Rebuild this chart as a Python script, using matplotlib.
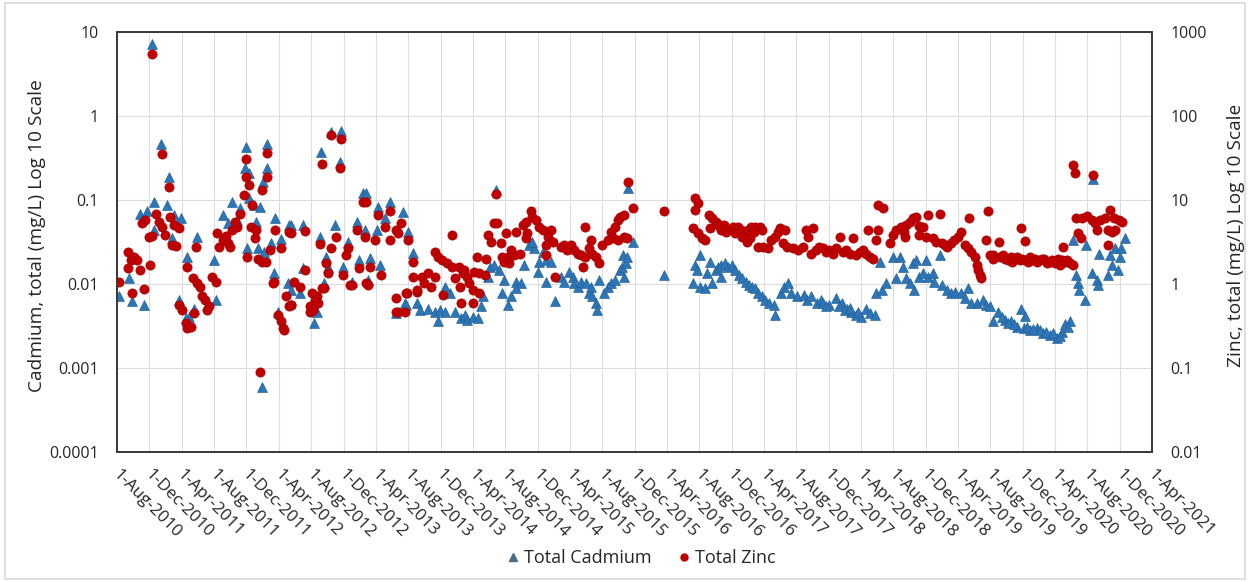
import numpy as np
import pandas as pd
import matplotlib
matplotlib.use('Agg')
import matplotlib.pyplot as plt
import matplotlib.ticker as mticker
import matplotlib.transforms as mtrans
from matplotlib.lines import Line2D
from matplotlib.patches import Rectangle

# sample date (decimal year), total cadmium mg/L
cd_points = [
    (2010.60, 0.0071), (2010.70, 0.0117), (2010.74, 0.0062), (2010.86, 0.0056),
    (2010.82, 0.069), (2010.89, 0.073), (2010.94, 7.2), (2010.96, 0.095),
    (2010.96, 0.044), (2011.03, 0.47), (2011.10, 0.087), (2011.12, 0.19),
    (2011.15, 0.035), (2011.17, 0.066), (2011.24, 0.061), (2011.22, 0.0064),
    (2011.30, 0.021), (2011.32, 0.0041), (2011.37, 0.0051), (2011.41, 0.0366),
    (2011.58, 0.0193), (2011.60, 0.0064), (2011.29, 0.0039),
    (2011.67, 0.066), (2011.72, 0.053), (2011.77, 0.095), (2011.82, 0.058),
    (2011.85, 0.081), (2011.94, 0.105), (2011.99, 0.087), (2011.91, 0.43),
    (2011.90, 0.24), (2011.94, 0.21), (2012.13, 0.47), (2012.13, 0.24),
    (2012.09, 0.165), (2012.01, 0.055), (2012.06, 0.083), (2011.92, 0.0266),
    (2012.04, 0.0266), (2012.10, 0.0242), (2012.17, 0.0305), (2012.21, 0.0606),
    (2012.27, 0.034), (2012.35, 0.050), (2012.20, 0.0134), (2012.24, 0.0047),
    (2012.34, 0.0102), (2012.08, 0.00059),
    (2012.37, 0.050), (2012.50, 0.050), (2012.67, 0.0366), (2012.83, 0.050),
    (2013.05, 0.055), (2013.14, 0.044), (2012.96, 0.0314), (2013.26, 0.044),
    (2013.27, 0.083), (2013.39, 0.0955), (2013.34, 0.0606), (2013.53, 0.0726),
    (2013.58, 0.042), (2013.63, 0.0232), (2013.07, 0.0193), (2013.19, 0.0202),
    (2013.29, 0.0168), (2012.91, 0.0161), (2012.76, 0.0161), (2012.74, 0.021),
    (2013.00, 0.0106), (2013.17, 0.0112), (2012.50, 0.0154), (2012.71, 0.0102),
    (2012.64, 0.0047), (2012.61, 0.0034), (2012.38, 0.0085), (2012.47, 0.0078),
    (2012.68, 0.37), (2012.79, 0.65), (2012.89, 0.66), (2012.88, 0.286),
    (2013.12, 0.12), (2013.15, 0.12), (2013.45, 0.0045), (2013.55, 0.0059),
    (2013.67, 0.0059), (2013.70, 0.0049), (2013.79, 0.0051), (2013.86, 0.0047),
    (2013.91, 0.0049), (2013.89, 0.0036), (2013.96, 0.0047), (2014.01, 0.0078),
    (2014.06, 0.0047), (2014.13, 0.0039), (2014.17, 0.0043), (2013.56, 0.0056),
    (2013.96, 0.0093), (2014.19, 0.0037), (2014.25, 0.0041), (2014.30, 0.0039),
    (2014.35, 0.0071), (2014.33, 0.0054), (2014.40, 0.0122), (2014.42, 0.016),
    (2014.47, 0.0168), (2014.52, 0.0147), (2014.49, 0.131), (2014.57, 0.0112),
    (2014.69, 0.0106), (2014.74, 0.0102), (2014.55, 0.0078), (2014.61, 0.0056),
    (2014.64, 0.0071), (2014.69, 0.0089), (2014.78, 0.0168), (2014.83, 0.029),
    (2014.88, 0.0266), (2014.86, 0.032), (2014.93, 0.0184), (2014.92, 0.014),
    (2014.97, 0.0242), (2015.00, 0.0193), (2015.05, 0.0184), (2015.00, 0.0106),
    (2015.09, 0.0062), (2015.16, 0.0122), (2015.19, 0.0106), (2015.24, 0.014),
    (2015.28, 0.0122), (2015.29, 0.0102), (2015.33, 0.0093), (2015.36, 0.0106),
    (2015.41, 0.0102), (2015.45, 0.0078), (2015.47, 0.0093), (2015.48, 0.0071),
    (2015.52, 0.0059), (2015.53, 0.0049), (2015.55, 0.0112), (2015.60, 0.0078),
    (2015.64, 0.0093), (2015.67, 0.0102), (2015.71, 0.0112), (2015.76, 0.0147),
    (2015.79, 0.016), (2015.80, 0.0221), (2015.81, 0.0122), (2015.83, 0.0176),
    (2015.84, 0.021), (2015.85, 0.138), (2015.90, 0.032), (2016.22, 0.0128),
    (2016.52, 0.0102), (2016.54, 0.0168), (2016.56, 0.0147), (2016.59, 0.0221),
    (2016.59, 0.0093), (2016.64, 0.0089), (2016.66, 0.0134), (2016.69, 0.0184),
    (2016.71, 0.0102), (2016.75, 0.0147), (2016.78, 0.0161), (2016.81, 0.0168),
    (2016.85, 0.0176), (2016.81, 0.0122), (2016.88, 0.016), (2016.92, 0.0168),
    (2016.95, 0.0147), (2016.99, 0.0128), (2017.02, 0.0117), (2017.06, 0.0106),
    (2017.09, 0.0097), (2017.12, 0.0093), (2017.16, 0.0089), (2017.19, 0.0078),
    (2017.23, 0.0071), (2017.26, 0.0064), (2017.30, 0.0059), (2017.35, 0.0056),
    (2017.36, 0.0043), (2017.42, 0.0078), (2017.45, 0.0093), (2017.50, 0.0102),
    (2017.53, 0.0078), (2017.59, 0.0071), (2017.66, 0.0074), (2017.69, 0.0064),
    (2017.73, 0.0071), (2017.79, 0.0059), (2017.83, 0.0064),
    (2017.86, 0.0059), (2017.92, 0.0056), (2017.99, 0.0068), (2018.05, 0.0059),
    (2018.10, 0.0051), (2018.15, 0.0047), (2018.20, 0.0043), (2018.25, 0.0041),
    (2018.30, 0.0051), (2018.34, 0.0045), (2018.39, 0.0043), (2017.89, 0.0054),
    (2018.02, 0.0055), (2018.08, 0.0049), (2018.13, 0.0052), (2018.22, 0.0046),
    (2018.40, 0.0078), (2018.46, 0.0085), (2018.51, 0.0102), (2018.44, 0.0184),
    (2018.58, 0.0211), (2018.65, 0.0211), (2018.68, 0.016), (2018.61, 0.0117),
    (2018.71, 0.0117), (2018.78, 0.0176), (2018.82, 0.0193), (2018.75, 0.0102),
    (2018.79, 0.0085), (2018.85, 0.0122), (2018.89, 0.0134), (2018.92, 0.0193),
    (2018.94, 0.0122), (2018.99, 0.0134), (2019.00, 0.0106), (2019.06, 0.0221),
    (2019.08, 0.0097), (2019.14, 0.0085), (2019.18, 0.0078), (2019.22, 0.008),
    (2019.28, 0.0078), (2019.32, 0.0068), (2019.35, 0.0089), (2019.38, 0.0059),
    (2019.44, 0.0059), (2019.51, 0.0064), (2019.54, 0.0056), (2019.61, 0.0036),
    (2019.58, 0.0054), (2019.66, 0.0047), (2019.73, 0.0037), (2019.79, 0.0036),
    (2019.86, 0.0031), (2019.93, 0.003), (2019.99, 0.0028), (2020.06, 0.003),
    (2020.13, 0.0026), (2020.20, 0.0025), (2020.27, 0.0023), (2020.32, 0.0027),
    (2020.35, 0.0033), (2020.40, 0.0036), (2019.90, 0.0051), (2019.94, 0.0042),
    (2019.70, 0.004), (2019.76, 0.0034), (2019.83, 0.0033), (2019.96, 0.0031),
    (2020.02, 0.0029), (2020.09, 0.0028), (2020.16, 0.0027), (2020.23, 0.0026),
    (2020.30, 0.0024), (2020.38, 0.0031),
    (2020.43, 0.033), (2020.47, 0.0128), (2020.49, 0.0102), (2020.50, 0.0085),
    (2020.56, 0.0064), (2020.57, 0.029), (2020.63, 0.0134), (2020.68, 0.0112),
    (2020.69, 0.0097), (2020.64, 0.18), (2020.70, 0.023), (2020.80, 0.0128),
    (2020.82, 0.022), (2020.84, 0.0168), (2020.87, 0.0266), (2020.90, 0.0147),
    (2020.92, 0.021), (2020.93, 0.0266), (2020.97, 0.035),
]

# sample date (decimal year), total zinc mg/L
zn_points = [
    (2010.60, 1.07), (2010.69, 2.4), (2010.72, 1.93), (2010.76, 2.1),
    (2010.79, 1.93), (2010.69, 1.55), (2010.82, 1.47), (2010.92, 1.68),
    (2010.74, 0.78), (2010.86, 0.87), (2010.94, 550), (2011.04, 35),
    (2011.12, 14.4), (2010.84, 5.3), (2010.87, 5.8), (2010.98, 6.9),
    (2011.01, 5.5), (2010.91, 3.66), (2010.94, 3.7), (2011.05, 4.8),
    (2011.08, 3.8), (2011.13, 6.3), (2011.17, 5.0), (2011.22, 4.6),
    (2011.15, 2.9), (2011.19, 2.8),
    (2011.40, 2.78), (2011.30, 1.6), (2011.36, 1.17), (2011.41, 1.02),
    (2011.44, 0.93), (2011.46, 0.71), (2011.49, 0.64), (2011.53, 0.54),
    (2011.51, 0.49), (2011.56, 1.22), (2011.60, 1.07), (2011.22, 0.56),
    (2011.25, 0.49), (2011.29, 0.34), (2011.30, 0.30), (2011.34, 0.31),
    (2011.37, 0.45), (2011.61, 4.0), (2011.67, 3.34), (2011.72, 3.05),
    (2011.75, 2.78), (2011.63, 2.78), (2011.70, 3.7), (2011.77, 4.4),
    (2011.82, 4.8), (2011.85, 6.9), (2011.80, 5.5), (2011.89, 11.5),
    (2011.91, 18.9), (2011.91, 31), (2011.94, 15), (2011.97, 8.7),
    (2011.96, 4.8), (2012.01, 4.4), (2012.00, 3.5), (2011.92, 2.1),
    (2012.03, 2.0), (2012.08, 1.84), (2012.12, 1.84), (2012.13, 36.6),
    (2012.13, 18.9), (2012.08, 13.1), (2012.16, 2.54), (2012.21, 4.4),
    (2012.27, 2.7), (2012.35, 4.2), (2012.20, 1.05), (2012.24, 0.43),
    (2012.27, 0.36), (2012.29, 0.30), (2012.32, 0.71), (2012.35, 0.54),
    (2012.06, 0.09), (2012.19, 1.04), (2012.30, 0.28), (2012.37, 0.56),
    (2012.47, 0.93), (2012.57, 0.47), (2012.61, 0.56), (2012.64, 0.71),
    (2012.71, 0.89), (2012.98, 0.97), (2013.15, 1.02), (2013.45, 0.68),
    (2013.48, 0.47), (2013.55, 0.47), (2013.57, 0.78), (2013.67, 0.81),
    (2012.79, 59), (2012.89, 52.7), (2012.69, 26.5), (2012.88, 23.8),
    (2013.12, 9.5), (2013.15, 9.5), (2012.38, 4.0), (2012.52, 4.3),
    (2012.67, 3.0), (2012.84, 3.66), (2012.79, 2.66), (2013.05, 4.4),
    (2013.14, 3.66), (2012.96, 2.66), (2012.94, 2.2), (2013.24, 3.34),
    (2013.27, 6.6), (2013.39, 7.3), (2013.34, 4.8), (2013.51, 5.3),
    (2013.45, 4.4), (2013.39, 3.34), (2013.48, 4.0), (2013.58, 3.34),
    (2013.63, 1.84), (2013.07, 1.54), (2013.19, 1.6), (2013.30, 1.28),
    (2012.91, 1.28), (2012.76, 1.34), (2012.74, 1.76), (2013.00, 0.97),
    (2013.17, 0.97), (2012.52, 1.47), (2012.41, 1.07), (2012.59, 0.78),
    (2012.62, 0.64), (2012.69, 0.89), (2012.57, 0.54), (2012.60, 0.49),
    (2012.65, 0.59), (2012.38, 0.56),
    (2014.03, 3.8), (2013.86, 2.4), (2013.89, 2.1), (2013.93, 1.93),
    (2013.98, 1.76), (2014.03, 1.6), (2014.10, 1.6), (2014.15, 1.34),
    (2013.72, 1.22), (2013.79, 1.34), (2013.86, 1.22), (2013.63, 1.22),
    (2013.67, 0.85), (2013.74, 1.02), (2013.82, 0.93), (2013.56, 0.78),
    (2013.46, 0.47), (2013.94, 0.74), (2014.06, 1.17), (2014.12, 0.93),
    (2014.13, 0.59),
    (2014.49, 11.7), (2014.47, 5.3), (2014.50, 5.3), (2014.40, 3.8),
    (2014.43, 3.2), (2014.54, 3.05), (2014.59, 4.0), (2014.69, 4.2),
    (2014.76, 5.0), (2014.80, 5.5), (2014.85, 7.3), (2014.86, 6.3),
    (2014.90, 5.8), (2014.93, 4.8), (2014.97, 4.4), (2014.81, 4.0),
    (2014.80, 3.5), (2015.02, 3.66), (2015.05, 4.4), (2015.07, 3.2),
    (2015.00, 2.9), (2014.64, 2.54), (2014.61, 2.1), (2014.67, 2.2),
    (2014.73, 2.3), (2014.55, 2.1), (2014.57, 1.84), (2014.62, 1.76),
    (2014.29, 2.1), (2014.38, 2.0), (2014.26, 1.4), (2014.31, 1.34),
    (2014.37, 1.28), (2014.16, 1.47), (2014.19, 1.22), (2014.21, 1.02),
    (2014.25, 0.85), (2014.31, 0.78), (2014.25, 0.59), (2015.00, 2.2),
    (2015.09, 1.22), (2015.16, 2.78), (2015.19, 2.9), (2015.22, 2.54),
    (2015.26, 2.9), (2015.29, 2.54), (2015.33, 2.3), (2015.36, 2.2),
    (2015.40, 2.1), (2015.45, 2.66), (2015.48, 2.3), (2015.52, 2.1),
    (2015.55, 1.76), (2015.40, 4.8), (2015.38, 1.6), (2015.47, 3.34),
    (2015.58, 2.9), (2015.64, 3.34), (2015.67, 4.2), (2015.71, 4.8),
    (2015.74, 5.8), (2015.77, 6.3), (2015.81, 6.6), (2015.69, 3.5),
    (2015.74, 3.34), (2015.81, 3.66), (2015.84, 3.5), (2015.85, 16.5),
    (2015.90, 8.0), (2016.22, 7.4),
    (2016.54, 10.5), (2016.57, 9.1), (2016.54, 7.6), (2016.52, 4.6),
    (2016.57, 4.0), (2016.61, 3.5), (2016.64, 3.34), (2016.68, 6.6),
    (2016.71, 6.1), (2016.75, 5.5), (2016.78, 5.0), (2016.69, 4.6),
    (2016.81, 4.4), (2016.80, 5.0), (2016.84, 5.0), (2016.88, 4.4),
    (2016.93, 4.8), (2016.98, 4.8), (2017.01, 4.4), (2017.04, 3.8),
    (2017.08, 4.4), (2017.11, 4.8), (2017.16, 4.8), (2017.21, 4.8),
    (2017.23, 4.4), (2016.95, 4.0), (2017.02, 3.66), (2017.07, 3.2),
    (2017.10, 3.5), (2016.86, 4.2), (2017.14, 4.2), (2017.19, 2.78),
    (2017.24, 2.78), (2017.29, 2.66), (2017.32, 3.34), (2017.36, 3.66),
    (2017.39, 4.2), (2017.41, 4.6), (2017.44, 3.05), (2017.48, 2.78),
    (2017.46, 4.4), (2017.55, 2.66), (2017.60, 2.54), (2017.65, 2.78),
    (2017.68, 4.4), (2017.70, 3.66), (2017.75, 4.6), (2017.73, 2.3),
    (2017.78, 2.54), (2017.81, 2.78),
    (2017.86, 2.66), (2017.92, 2.54), (2017.99, 2.66), (2018.06, 2.42),
    (2018.13, 2.3), (2018.20, 2.2), (2018.27, 2.54), (2018.30, 2.3),
    (2018.34, 2.1), (2018.37, 2.0), (2018.03, 3.66), (2018.17, 3.5),
    (2017.89, 2.42), (2017.96, 2.3), (2018.09, 2.54), (2018.24, 2.42),
    (2018.32, 4.4), (2018.42, 8.7), (2018.47, 8.0), (2018.42, 4.4),
    (2018.40, 3.34), (2018.55, 3.05), (2018.58, 3.8), (2018.61, 4.4),
    (2018.66, 4.8), (2018.69, 4.2), (2018.71, 5.0), (2018.75, 5.5),
    (2018.78, 6.1), (2018.82, 6.3), (2018.85, 4.9), (2018.89, 4.8),
    (2018.94, 6.6), (2019.06, 6.9), (2018.92, 3.66), (2018.85, 3.8),
    (2018.70, 3.66), (2018.99, 3.5), (2019.02, 3.2), (2019.08, 3.05),
    (2019.11, 2.9), (2019.14, 2.78), (2019.18, 3.05), (2019.21, 3.34),
    (2019.25, 3.66), (2019.28, 4.2), (2019.32, 2.9), (2019.35, 2.66),
    (2019.38, 2.42), (2019.42, 2.1), (2019.44, 1.68), (2019.45, 1.47),
    (2019.47, 1.28), (2019.49, 1.17), (2019.36, 6.1), (2019.56, 7.3),
    (2019.54, 3.34), (2019.61, 2.2),
    (2019.67, 3.2), (2019.90, 4.7), (2019.94, 3.25), (2019.58, 2.2),
    (2019.63, 2.1), (2019.68, 2.1), (2019.73, 2.0), (2019.79, 2.1),
    (2019.84, 2.0), (2019.89, 1.93), (2019.94, 1.93), (2019.99, 2.1),
    (2020.04, 2.0), (2020.09, 1.93), (2020.14, 2.0), (2020.20, 1.84),
    (2020.25, 1.76), (2020.28, 2.0), (2020.32, 1.93), (2020.35, 1.84),
    (2020.40, 1.76), (2020.43, 1.68), (2019.61, 2.0), (2019.71, 2.2),
    (2019.76, 1.93), (2019.81, 1.84), (2019.86, 2.1), (2019.91, 2.0),
    (2019.97, 1.84), (2020.01, 1.93), (2020.06, 1.84), (2020.11, 2.0),
    (2020.17, 1.76), (2020.22, 1.93), (2020.30, 1.68), (2020.37, 1.93),
    (2020.33, 2.78), (2020.43, 26), (2020.45, 20.8), (2020.64, 19.9),
    (2020.47, 6.1), (2020.53, 6.1), (2020.58, 6.45), (2020.63, 5.8),
    (2020.66, 5.3), (2020.71, 5.8), (2020.76, 6.1), (2020.82, 7.6),
    (2020.86, 6.1), (2020.91, 5.8), (2020.94, 5.5), (2020.49, 4.0),
    (2020.52, 3.5), (2020.68, 4.4), (2020.80, 4.4), (2020.84, 4.2),
    (2020.87, 4.4), (2020.79, 2.9),
]

tick_dates = pd.date_range('2010-08-01', '2021-04-01', freq='4MS')
cd_ticks = [0.0001, 0.001, 0.01, 0.1, 1, 10]
zn_ticks = [0.01, 0.1, 1, 10, 100, 1000]

BLUE = '#2E75B6'
RED = '#C00000'
TEXT = '#262626'
FONT = 'Open Sans'


def to_dates(years):
    years = np.asarray(years, dtype=float)
    whole = np.floor(years).astype(int)
    start = pd.to_datetime([f'{y}-01-01' for y in whole])
    return start + pd.to_timedelta((years - whole) * 365.25, unit='D')


def main():
    plt.rcParams['font.family'] = [FONT, 'DejaVu Sans']

    cd_t, cd_v = zip(*cd_points)
    zn_t, zn_v = zip(*zn_points)

    fig = plt.figure(figsize=(12.5, 5.82), dpi=100)
    ax = fig.add_axes([0.0936, 0.2234, 0.828, 0.7216])
    ax2 = ax.twinx()

    ax.scatter(to_dates(cd_t), cd_v, marker='^', s=50, color=BLUE,
               edgecolors='#23629c', linewidths=0.5, zorder=3)
    ax2.scatter(to_dates(zn_t), zn_v, marker='o', s=44, color=RED,
                edgecolors='#a50000', linewidths=0.5, zorder=3)

    for a, lo, hi, ticks in ((ax, 0.0001, 10, cd_ticks), (ax2, 0.01, 1000, zn_ticks)):
        a.set_yscale('log')
        a.set_ylim(lo, hi)
        a.yaxis.set_major_locator(mticker.FixedLocator(ticks))
        a.yaxis.set_minor_locator(mticker.NullLocator())
        a.yaxis.set_major_formatter(mticker.FuncFormatter(lambda v, p: '{:g}'.format(v)))

    # Excel style date labels, slanted down to the right from each gridline
    ax.set_xlim(tick_dates[0], tick_dates[-1])
    ax.set_xticks(tick_dates)
    ax.tick_params(axis='x', length=0, labelbottom=False)
    shift = mtrans.ScaledTranslation(-2 / 100, -20 / 100, fig.dpi_scale_trans)
    for d in tick_dates:
        ax.text(d, 0, '{}-{}'.format(d.day, d.strftime('%b-%Y')),
                transform=ax.get_xaxis_transform() + shift,
                rotation=-45, rotation_mode='anchor', ha='left', va='center',
                fontsize=12.2, color=TEXT)

    ax.grid(True, which='major', color='#dcdcdc', linewidth=0.8)
    ax.set_axisbelow(True)

    ax.tick_params(axis='y', length=0, pad=13, labelsize=11.5, labelcolor=TEXT)
    ax2.tick_params(axis='y', length=0, pad=13, labelsize=11.5, labelcolor=TEXT)

    for a in (ax, ax2):
        for sp in a.spines.values():
            sp.set_color('#3a3a3a')
            sp.set_linewidth(1.3)

    ax.set_ylabel('Cadmium, total (mg/L) Log 10 Scale', fontsize=13.8, color=TEXT,
                  va='center')
    ax.yaxis.set_label_coords(-0.077, 0.515)
    ax2.set_ylabel('Zinc, total (mg/L) Log 10 Scale', fontsize=13.8, color=TEXT,
                   rotation=90, va='center')
    ax2.yaxis.set_label_coords(1.081, 0.515)

    handles = [
        Line2D([], [], linestyle='none', marker='^', markersize=6, color='#4d6a8a',
               label='Total Cadmium'),
        Line2D([], [], linestyle='none', marker='o', markersize=5, color=RED,
               label='Total Zinc'),
    ]
    fig.legend(handles=handles, loc='center', bbox_to_anchor=(0.512, 0.041), ncol=2,
               frameon=False, fontsize=13, handlelength=1.0, handletextpad=0.1,
               columnspacing=1.3, labelcolor=TEXT)

    fig.patches.append(Rectangle((0.004, 0.006), 0.992, 0.988, transform=fig.transFigure,
                                 fill=False, edgecolor='#d9d9d9', linewidth=1.2))

    fig.savefig('out.png', dpi=100, facecolor='white')


if __name__ == '__main__':
    main()
